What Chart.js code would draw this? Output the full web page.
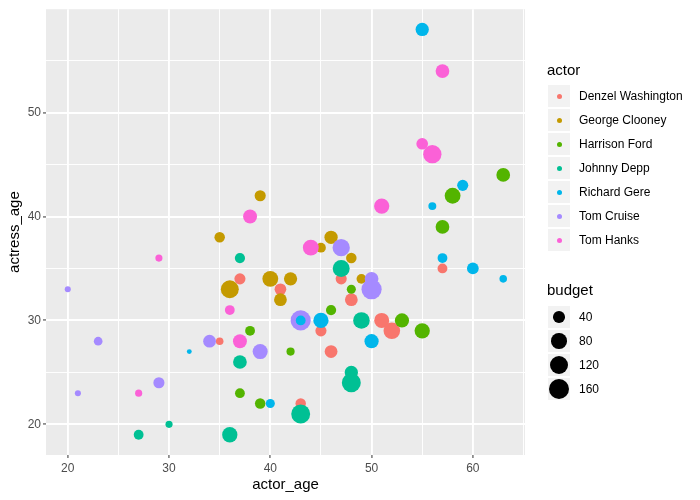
<!DOCTYPE html>
<html>
<head>
<meta charset="utf-8">
<title>actor vs actress age</title>
<script src="https://cdn.jsdelivr.net/npm/chart.js@4.4.1/dist/chart.umd.min.js"></script>
<style>
    body { margin: 0; background: #ffffff; font-family: "Liberation Sans", Arial, sans-serif; }
    #wrap { position: relative; width: 700px; height: 500px; }
    #chart { position: absolute; left: 0; top: 0; }
    .legend-title { position: absolute; left: 547px; font-size: 15px; line-height: 18px; color: #000; }
    .key { position: absolute; left: 547px; width: 24px; height: 24px; box-sizing: border-box;
           background: #F2F2F2; border: 1px solid #ffffff; }
    .key span { position: absolute; border-radius: 50%; }
    .key-label { position: absolute; left: 579px; font-size: 12px; line-height: 14px; color: #000; white-space: nowrap; }
</style>
</head>
<body>
<div id="wrap">
    <canvas id="chart" width="700" height="500"></canvas>
</div>
<script>
// actor / colour order follows the factor levels
const actors = ['Denzel Washington', 'George Clooney', 'Harrison Ford', 'Johnny Depp',
                'Richard Gere', 'Tom Cruise', 'Tom Hanks'];
const actorColors = ['#F8766D', '#C49A00', '#53B400', '#00C094', '#00B6EB', '#A58AFF', '#FB61D7'];

// per actor: actor_age, actress_age, budget
const denzelActorAge   = [43, 41, 37, 35, 47, 48, 45, 46, 51, 52, 57];
const denzelActressAge = [22, 33, 34, 28, 34, 32, 29, 27, 30, 29, 35];
const denzelBudget     = [30, 40, 35, 12, 35, 50, 35, 50, 75, 95, 25];

const clooneyActorAge   = [39, 35, 36, 40, 42, 41, 46, 45, 48, 49];
const clooneyActressAge = [42, 38, 33, 34, 34, 32, 38, 37, 36, 34];
const clooneyBudget     = [35, 30, 115, 85, 55, 50, 55, 25, 30, 25];

const fordActorAge   = [63, 58, 57, 38, 42, 37, 39, 48, 46, 53, 55];
const fordActressAge = [44, 42, 39, 29, 27, 23, 22, 33, 31, 30, 29];
const fordBudget     = [60, 85, 60, 25, 15, 25, 30, 20, 28, 65, 78];

const deppActorAge   = [37, 37, 30, 27, 36, 43, 48, 48, 47, 49];
const deppActressAge = [36, 26, 20, 19, 19, 21, 25, 24, 35, 30];
const deppBudget     = [28, 60, 10, 25, 78, 130, 55, 130, 100, 95];

const gereActorAge   = [55, 59, 56, 57, 60, 63, 43, 45, 50, 32, 40];
const gereActressAge = [58, 43, 41, 36, 35, 34, 30, 30, 28, 27, 22];
const gereBudget     = [55, 35, 14, 25, 40, 12, 25, 78, 65, 3, 20];

const cruiseActorAge   = [20, 23, 21, 29, 34, 39, 43, 47, 50, 50];
const cruiseActressAge = [33, 28, 23, 24, 28, 27, 30, 37, 34, 33];
const cruiseBudget     = [6, 18, 6, 35, 50, 75, 150, 105, 60, 150];

const hanksActorAge   = [57, 55, 56, 51, 38, 29, 36, 37, 27, 44];
const hanksActressAge = [54, 47, 46, 41, 40, 36, 31, 28, 23, 37];
const hanksBudget     = [60, 40, 120, 78, 62, 10, 25, 62, 10, 85];

const budgetBreaks = [40, 80, 120, 160];
const xTicks = [20, 25, 30, 35, 40, 45, 50, 55, 60, 65];
const yTicks = [20, 25, 30, 35, 40, 45, 50, 55];

const actorAges   = [denzelActorAge, clooneyActorAge, fordActorAge, deppActorAge, gereActorAge, cruiseActorAge, hanksActorAge];
const actressAges = [denzelActressAge, clooneyActressAge, fordActressAge, deppActressAge, gereActressAge, cruiseActressAge, hanksActressAge];
const budgets     = [denzelBudget, clooneyBudget, fordBudget, deppBudget, gereBudget, cruiseBudget, hanksBudget];

// chart.js draws low `order` last (on top)
const drawOrder = [6, 5, 4, 3, 1, 2, 0];

/**
 * Point diameter (px) for a budget, area-style scale like ggplot's scale_size
 */
function pointDiameter(budget) {
    return 2.87 + 1.415 * Math.sqrt(Math.max(budget - 1, 0));
}

const datasets = actors.map((name, i) => ({
    label: name,
    data: actorAges[i].map((x, j) => ({ x: x, y: actressAges[i][j], budget: budgets[i][j] })),
    backgroundColor: actorColors[i],
    borderColor: actorColors[i],
    borderWidth: 0,
    pointRadius: ctx => pointDiameter(ctx.raw.budget) / 2,
    pointHoverRadius: ctx => pointDiameter(ctx.raw.budget) / 2,
    order: drawOrder[i]
}));

const panelBackground = {
    id: 'panelBackground',
    beforeDraw(chart) {
        const { ctx, chartArea: a } = chart;
        ctx.save();
        ctx.fillStyle = '#EBEBEB';
        ctx.fillRect(a.left, a.top, a.right - a.left, a.bottom - a.top);
        ctx.restore();
    }
};

function isMajor(ctx) {
    return ctx.tick && ctx.tick.value % 10 === 0;
}

function axisOptions(ticks, min, max, title) {
    return {
        type: 'linear',
        min: min,
        max: max,
        afterBuildTicks: scale => { scale.ticks = ticks.map(v => ({ value: v })); },
        border: { display: false },
        grid: {
            color: '#ffffff',
            lineWidth: ctx => isMajor(ctx) ? 1.9 : 0.95,
            drawTicks: true,
            tickLength: 3,
            tickWidth: 1,
            tickColor: ctx => isMajor(ctx) ? '#333333' : 'rgba(0,0,0,0)'
        },
        ticks: {
            color: '#4D4D4D',
            font: { family: '"Liberation Sans", Arial, sans-serif', size: 12 },
            padding: 2,
            autoSkip: false,
            maxRotation: 0,
            callback: v => v % 10 === 0 ? String(v) : ''
        },
        title: {
            display: true,
            text: title,
            color: '#000000',
            font: { family: '"Liberation Sans", Arial, sans-serif', size: 15 },
            padding: { top: 6, bottom: 6 }
        }
    };
}

const xAxis = axisOptions(xTicks, 17.85, 65.15, 'actor_age');
xAxis.afterFit = scale => { scale.height = 45; };
xAxis.ticks.padding = 3;

const yAxis = axisOptions(yTicks, 17.05, 59.95, 'actress_age');
yAxis.afterFit = scale => { scale.width = 46; };

new Chart(document.getElementById('chart'), {
    type: 'scatter',
    data: { datasets: datasets },
    options: {
        responsive: false,
        animation: false,
        events: [],
        layout: { autoPadding: false, padding: { top: 7, right: 175, left: 0, bottom: 0 } },
        plugins: { legend: { display: false }, tooltip: { enabled: false } },
        scales: { x: xAxis, y: yAxis }
    },
    plugins: [panelBackground]
});

// ggplot-like legends on the right
const wrap = document.getElementById('wrap');

function addEl(cls, top, text) {
    const el = document.createElement('div');
    el.className = cls;
    el.style.top = top + 'px';
    if (text !== undefined) el.textContent = text;
    wrap.appendChild(el);
    return el;
}

function addKey(top, diameter, color) {
    const key = addEl('key', top);
    const dot = document.createElement('span');
    dot.style.width = diameter + 'px';
    dot.style.height = diameter + 'px';
    dot.style.left = (11 - diameter / 2) + 'px';
    dot.style.top = (11 - diameter / 2) + 'px';
    dot.style.background = color;
    key.appendChild(dot);
}

addEl('legend-title', 61, 'actor');
actors.forEach((name, i) => {
    const top = 84 + i * 24;
    addKey(top, 5, actorColors[i]);
    addEl('key-label', top + 5, name);
});

addEl('legend-title', 281, 'budget');
budgetBreaks.forEach((b, i) => {
    const top = 305 + i * 24;
    addKey(top, pointDiameter(b), '#000000');
    addEl('key-label', top + 5, String(b));
});
</script>
</body>
</html>
